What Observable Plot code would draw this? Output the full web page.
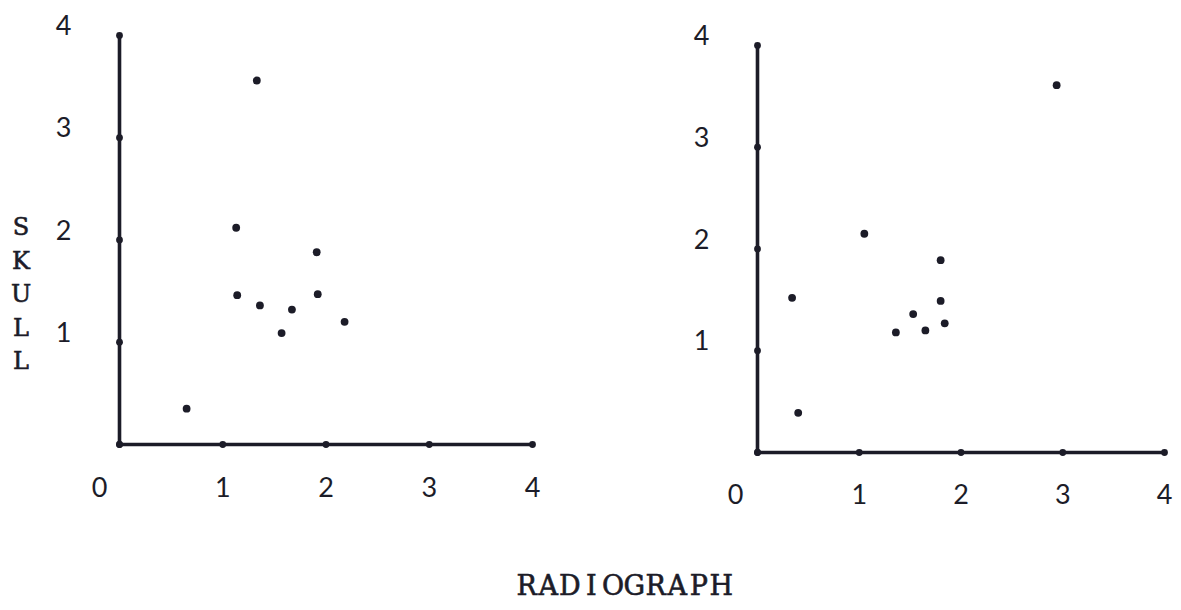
<!DOCTYPE html>
<html>
<head>
<meta charset="utf-8">
<script src="https://cdn.jsdelivr.net/npm/d3@7"></script>
<script src="https://cdn.jsdelivr.net/npm/@observablehq/plot@0.6"></script>
<style>
  html, body { margin: 0; padding: 0; background: #fff; }
  #wrap { position: relative; width: 1181px; height: 610px; overflow: hidden; }
  #left { position: absolute; left: 0; top: 0; }
  #right { position: absolute; left: 590px; top: 0; }
  .tw { font-family: "DejaVu Serif", "Liberation Serif", serif; color: #1c1c28;
        -webkit-text-stroke: 0.6px #1c1c28; }
  #skull {
    position: absolute; left: 7px; top: 211px; width: 28px;
    font-size: 24px; line-height: 33.5px; text-align: center;
  }
  #xlabel {
    position: absolute; left: 516px; top: 570px; white-space: nowrap;
    font-size: 27px; line-height: 32px;
  }
  #xlabel span { display: inline-block; width: 21.5px; text-align: center; }
</style>
</head>
<body>
<div id="wrap">
  <div id="left"></div>
  <div id="right"></div>
  <div id="skull" class="tw"></div>
  <div id="xlabel" class="tw"></div>
</div>
<script>
// Titles
const yTitle = "SKULL";
const xTitle = "RADIOGRAPH";

// Tick values
const ticks = [0, 1, 2, 3, 4];
const xTickLabels = ["0", "1", "2", "3", "4"];
const yTickLabels = ["1", "2", "3", "4"];

// Left panel
const leftRadiograph = [1.33, 1.13, 1.91, 1.14, 1.92, 1.36, 1.67, 1.57, 2.18, 0.65];
const leftSkull      = [3.56, 2.12, 1.88, 1.46, 1.47, 1.36, 1.32, 1.09, 1.20, 0.35];

// Right panel
const rightRadiograph = [2.94, 1.05, 1.80, 0.34, 1.80, 1.53, 1.84, 1.36, 1.65, 0.40];
const rightSkull      = [3.61, 2.15, 1.89, 1.52, 1.49, 1.36, 1.27, 1.18, 1.20, 0.39];

const ink = "#1c1c28";
const digitFont = "Lato, 'Open Sans', 'DejaVu Sans', sans-serif";

document.getElementById("skull").innerHTML = yTitle.split("").join("<br>");
document.getElementById("xlabel").innerHTML = xTitle.split("").map(c => `<span>${c}</span>`).join("");

function panel(xs, ys, opts) {
  const pts = xs.map((x, i) => ({x, y: ys[i]}));
  const label = {fontSize: 27, fontWeight: 400, fontFamily: digitFont, fill: ink};
  return Plot.plot({
    width: opts.width,
    height: 530,
    marginLeft: opts.ml,
    marginRight: opts.mr,
    marginTop: opts.mt,
    marginBottom: opts.mb,
    x: {domain: [0, 4], axis: null},
    y: {domain: [0, 4], axis: null},
    style: {background: "transparent", overflow: "visible"},
    marks: [
      Plot.ruleY([0], {x1: 0, x2: 4, stroke: ink, strokeWidth: 3.6}),
      Plot.ruleX([0], {y1: 0, y2: 4, stroke: ink, strokeWidth: 3.6}),
      Plot.dot(ticks, {x: d => d, y: 0, r: 3.4, fill: ink}),
      Plot.dot(ticks, {x: 0, y: d => d, r: 3.4, fill: ink}),
      Plot.dot(pts, {x: "x", y: "y", r: 3.9, fill: ink}),
      Plot.text(ticks.slice(1), {x: d => d, y: 0, text: (d, i) => xTickLabels[i + 1], dy: opts.xdy, ...label}),
      Plot.text([0], {x: 0, y: 0, text: () => xTickLabels[0], dx: opts.zdx, dy: opts.xdy, ...label}),
      Plot.text(ticks.slice(1), {x: 0, y: d => d, text: (d, i) => yTickLabels[i], dx: -56, dy: -9, ...label})
    ]
  });
}

document.getElementById("left").append(
  panel(leftRadiograph, leftSkull, {width: 590, ml: 119, mr: 58, mt: 35, mb: 86, xdy: 44, zdx: -20})
);
document.getElementById("right").append(
  panel(rightRadiograph, rightSkull, {width: 591, ml: 167, mr: 17, mt: 45, mb: 78, xdy: 43, zdx: -22})
);
</script>
</body>
</html>
